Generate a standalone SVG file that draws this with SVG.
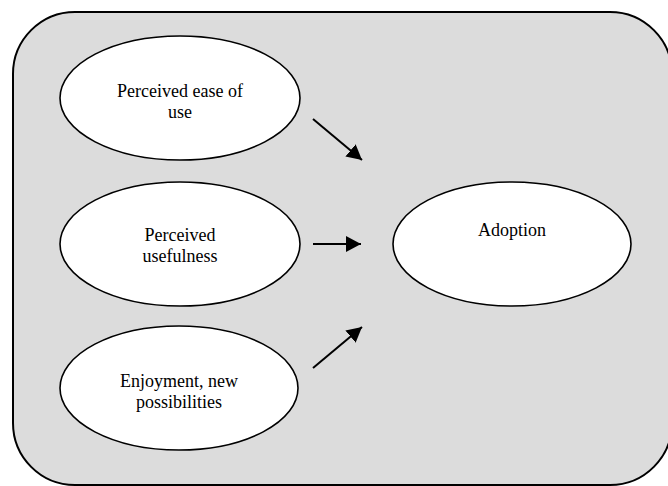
<svg xmlns="http://www.w3.org/2000/svg" width="668" height="486" viewBox="0 0 668 486">
<defs>
<style>
.node ellipse{fill:#fff;stroke:#000;stroke-width:1.6}
.node text{font-family:"Liberation Serif","Times New Roman",serif;font-size:18px;fill:#000;text-anchor:middle}
.conn line{stroke:#000;stroke-width:2;marker-end:url(#ah)}
</style>
<marker id="ah" viewBox="0 0 15 16" refX="15" refY="8" markerWidth="15" markerHeight="16" markerUnits="userSpaceOnUse" orient="auto">
<path d="M0,0 L15,8 L0,16 Z" fill="#000"/>
</marker>
</defs>
<rect id="frame" x="13" y="12" width="659" height="473" rx="62" ry="62" fill="#DCDCDC" stroke="#000" stroke-width="2"/>
<g id="n1" class="node">
<ellipse cx="180" cy="98" rx="120" ry="62"/>
<text x="180" y="97">Perceived ease of</text>
<text x="180" y="118">use</text>
</g>
<g id="n2" class="node">
<ellipse cx="180" cy="244" rx="120" ry="62"/>
<text x="180" y="241">Perceived</text>
<text x="180" y="262">usefulness</text>
</g>
<g id="n3" class="node">
<ellipse cx="179" cy="388" rx="119" ry="62"/>
<text x="179" y="387">Enjoyment, new</text>
<text x="179" y="408">possibilities</text>
</g>
<g id="n4" class="node">
<ellipse cx="512" cy="244" rx="119" ry="62"/>
<text x="512" y="236">Adoption</text>
</g>
<g id="connectors" class="conn">
<line x1="313" y1="119" x2="362" y2="160"/>
<line x1="313" y1="244" x2="361" y2="244"/>
<line x1="313" y1="368" x2="362" y2="327"/>
</g>
</svg>
